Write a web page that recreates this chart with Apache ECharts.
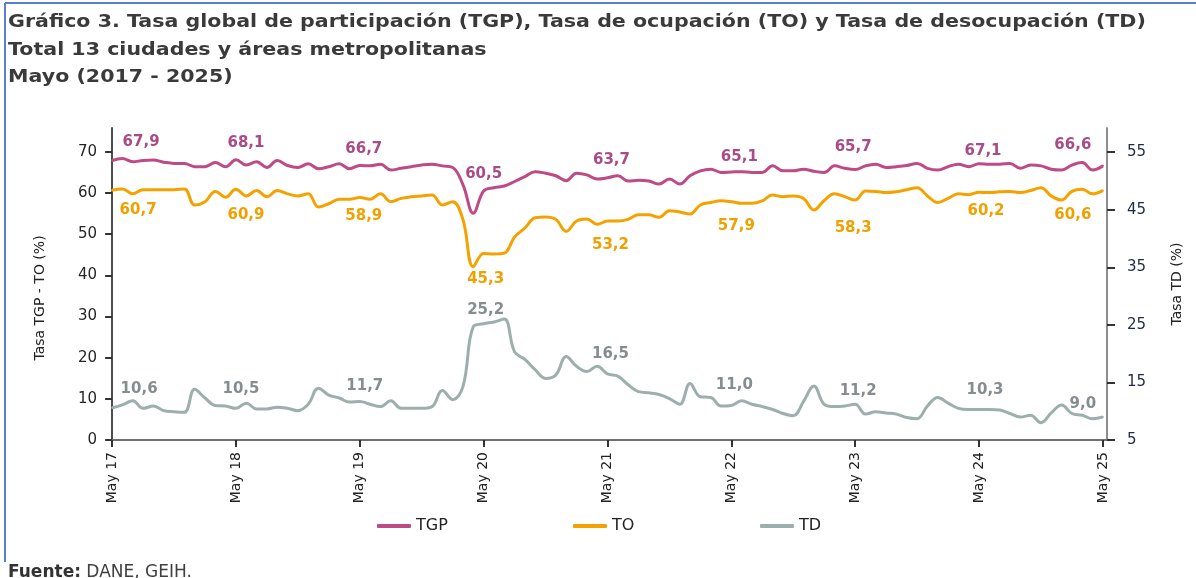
<!DOCTYPE html>
<html>
<head>
<meta charset="utf-8">
<script src="https://cdn.jsdelivr.net/npm/echarts@6/dist/echarts.min.js"></script>
<style>
  html, body { margin: 0; padding: 0; background: #fff; }
  #chart { width: 1196px; height: 578px; }
</style>
</head>
<body>
<div id="chart"></div>
<script>
// monthly values, May 2017 .. May 2025 (97 months)
var tgp = [
  67.9, 68.4, 67.6, 67.9, 68.0, 67.5, 67.2, 67.2, 66.4, 66.4, 67.4, 66.4,
  68.1, 66.8, 67.6, 66.2, 67.9, 66.7, 66.2, 67.1, 65.9, 66.4, 67.1, 65.9,
  66.7, 66.6, 67.0, 65.6, 66.0, 66.4, 66.8, 67.0, 66.6, 66.2, 62.0, 55.1,
  60.5, 61.3, 61.7, 62.8, 64.0, 65.2, 64.8, 64.2, 63.0, 64.8, 64.4, 63.4,
  63.7, 64.2, 62.9, 63.1, 62.9, 62.2, 63.4, 62.2, 64.2, 65.4, 65.8, 65.0,
  65.1, 65.2, 65.0, 65.0, 66.6, 65.4, 65.4, 65.8, 65.3, 65.0, 66.6, 66.0,
  65.7, 66.6, 67.0, 66.2, 66.4, 66.7, 67.2, 66.0, 65.6, 66.4, 67.0, 66.4,
  67.1, 67.0, 67.0, 67.2, 66.0, 66.8, 66.6, 65.8, 65.6, 66.8, 67.4, 65.6,
  66.6
];
var to = [
  60.7, 61.0, 59.8, 60.8, 60.8, 60.8, 60.8, 61.0, 57.1, 57.9, 60.4, 59.0,
  60.9, 59.3, 60.6, 59.1, 60.6, 59.8, 59.3, 59.8, 56.6, 57.4, 58.5, 58.5,
  58.9, 58.5, 59.8, 57.9, 58.7, 59.1, 59.3, 59.5, 57.1, 57.9, 53.5, 42.1,
  45.3, 45.2, 45.4, 49.3, 51.5, 54.0, 54.2, 53.6, 50.7, 53.2, 53.7, 52.4,
  53.2, 53.2, 53.6, 54.7, 54.7, 54.1, 55.7, 55.4, 54.9, 57.1, 57.7, 58.1,
  57.9, 57.5, 57.5, 58.1, 59.5, 59.1, 59.3, 58.7, 55.9, 58.2, 59.8, 59.1,
  58.3, 60.5, 60.4, 60.1, 60.3, 60.8, 61.3, 59.3, 57.7, 58.7, 59.8, 59.6,
  60.2, 60.1, 60.3, 60.4, 60.1, 60.6, 61.3, 59.3, 58.3, 60.4, 60.9, 59.8,
  60.6
];
var td = [
  10.6, 11.1, 11.8, 10.5, 10.9, 10.1, 9.9, 9.8, 13.8, 12.3, 11.0, 10.9,
  10.5, 11.4, 10.4, 10.4, 10.7, 10.5, 10.1, 11.2, 14.0, 12.8, 12.3, 11.6,
  11.7, 11.2, 10.8, 11.8, 10.5, 10.5, 10.5, 10.8, 13.6, 12.0, 14.3, 24.7,
  25.2, 25.5, 26.0, 20.3, 19.0, 17.2, 15.7, 16.3, 19.5, 17.8, 16.9, 17.8,
  16.5, 16.1, 14.6, 13.4, 13.2, 12.9, 12.2, 11.2, 14.8, 12.5, 12.4, 10.9,
  11.0, 11.8, 11.2, 10.8, 10.3, 9.6, 9.2, 11.7, 14.4, 11.2, 10.8, 10.9,
  11.2, 9.5, 9.9, 9.7, 9.5, 8.9, 8.7, 10.9, 12.4, 11.4, 10.5, 10.3,
  10.3, 10.3, 10.2, 9.6, 9.0, 9.3, 8.0, 9.7, 11.1, 9.6, 9.3, 8.7,
  9.0
];
var xTicks = ['May 17', 'May 18', 'May 19', 'May 20', 'May 21', 'May 22', 'May 23', 'May 24', 'May 25'];
var leftTicks = [0, 10, 20, 30, 40, 50, 60, 70];
var rightTicks = [5, 15, 25, 35, 45, 55];
var titleLines = [
  'Gráfico 3. Tasa global de participación (TGP), Tasa de ocupación (TO) y Tasa de desocupación (TD)',
  'Total 13 ciudades y áreas metropolitanas',
  'Mayo (2017 - 2025)'
];

// where the May labels sit relative to their point
var tgpOff = [[29, -18], [10, -17], [4, -16], [0, -17], [4, -18], [8, -15], [-2, -22], [4, -13], [-30, -21]];
var toOff = [[26, 20], [10, 26], [4, 19], [2, 26], [3, 24], [5, 24], [-2, 28], [7, 19], [-30, 25]];
var tdOff = [[27, -19], [5, -19], [5, -15], [2, -14], [3, -20], [3, -20], [3, -13], [6, -19], [-20, -13]];

var FONT = 'DejaVu Sans';
var fmt = function (v) { return v.toFixed(1).replace('.', ','); };

function build(values, offs, labelColor) {
  return values.map(function (v, i) {
    if (i % 12 !== 0) return [i, v];
    return {
      value: [i, v],
      label: {
        show: true,
        position: 'inside',
        offset: offs[i / 12],
        color: labelColor,
        fontFamily: FONT,
        fontWeight: 'bold',
        fontSize: 15,
        formatter: function (p) { return fmt(p.value[1]); }
      }
    };
  });
}

var myChart = echarts.init(document.getElementById('chart'));

var xStep = [];
for (var k = 0; k < xTicks.length; k++) xStep.push(k * 12);

// the original is a bit stretched sideways, so the title is scaled on x
var titleY = [22, 50, 77];
var titleGraphics = titleLines.map(function (t, i) {
  return {
    type: 'text',
    x: 8,
    y: titleY[i],
    scaleX: 1.143,
    style: {
      text: t,
      fontFamily: FONT,
      fontWeight: 'bold',
      fontSize: 18,
      fill: '#3a3a3a',
      verticalAlign: 'middle'
    }
  };
});

myChart.setOption({
  animation: false,
  legend: [
    {data: ['TGP'], left: 372, top: 513},
    {data: ['TO'], left: 568, top: 513},
    {data: ['TD'], left: 755, top: 513}
  ].map(function (l) {
    l.icon = 'roundRect';
    l.itemWidth = 34;
    l.itemHeight = 4;
    l.textStyle = {fontFamily: FONT, fontSize: 16, color: '#222'};
    return l;
  }),
  grid: {left: 109, right: 89, top: 128, bottom: 138},
  xAxis: {
    type: 'value',
    min: -0.3,
    max: 96.4,
    splitLine: {show: false},
    axisLine: {lineStyle: {color: '#6e6e6e', width: 2}},
    axisTick: {customValues: xStep, length: 7, lineStyle: {color: '#333', width: 2}},
    axisLabel: {
      customValues: xStep,
      rotate: 90,
      margin: 12,
      fontFamily: FONT,
      fontSize: 14,
      color: '#222',
      formatter: function (v) { return xTicks[Math.round(v / 12)]; }
    }
  },
  yAxis: [{
    type: 'value',
    min: 0,
    max: 75.8,
    name: 'Tasa TGP - TO (%)',
    nameLocation: 'middle',
    nameGap: 62,
    nameTextStyle: {fontFamily: FONT, fontSize: 14, color: '#222', padding: [0, 28, 0, 0]},
    splitLine: {show: false},
    axisLine: {show: true, lineStyle: {color: '#4d4d4d', width: 2}},
    axisTick: {show: true, customValues: leftTicks, length: 7, lineStyle: {color: '#333', width: 2}},
    axisLabel: {customValues: leftTicks, margin: 12, fontFamily: FONT, fontSize: 15, color: '#262626'}
  }, {
    type: 'value',
    min: 5,
    max: 59.2,
    name: 'Tasa TD (%)',
    nameLocation: 'middle',
    nameGap: 63,
    nameTextStyle: {fontFamily: FONT, fontSize: 14, color: '#222'},
    splitLine: {show: false},
    axisLine: {show: true, lineStyle: {color: '#8c8c8c', width: 2}},
    axisTick: {show: true, customValues: rightTicks, length: 8, lineStyle: {color: '#333', width: 2}},
    axisLabel: {customValues: rightTicks, margin: 20, fontFamily: FONT, fontSize: 15, color: '#1f2a44'}
  }],
  series: [{
    name: 'TGP',
    type: 'line',
    smooth: 0.4,
    symbol: 'circle',
    symbolSize: 2,
    showSymbol: true,
    lineStyle: {width: 3, color: '#BE4B86'},
    itemStyle: {color: '#BE4B86'},
    data: build(tgp, tgpOff, '#A94C86')
  }, {
    name: 'TO',
    type: 'line',
    smooth: 0.4,
    symbol: 'circle',
    symbolSize: 2,
    showSymbol: true,
    lineStyle: {width: 3, color: '#F5A200'},
    itemStyle: {color: '#F5A200'},
    data: build(to, toOff, '#F0A000')
  }, {
    name: 'TD',
    type: 'line',
    yAxisIndex: 1,
    smooth: 0.4,
    symbol: 'circle',
    symbolSize: 2,
    showSymbol: true,
    lineStyle: {width: 3, color: '#9DAFAC'},
    itemStyle: {color: '#9DAFAC'},
    data: build(td, tdOff, '#868D91')
  }],
  graphic: titleGraphics.concat([
    {type: 'line', shape: {x1: 5, y1: 3, x2: 1196, y2: 3}, style: {stroke: '#5b7fd0', lineWidth: 2}},
    {type: 'line', shape: {x1: 5, y1: 3, x2: 5, y2: 562}, style: {stroke: '#5b7fd0', lineWidth: 2}},
    {
      type: 'text',
      left: 8,
      top: 564,
      style: {
        text: '{b|Fuente:} DANE, GEIH.',
        fontFamily: FONT,
        fontSize: 17,
        fill: '#404040',
        rich: {b: {fontFamily: FONT, fontSize: 17, fontWeight: 'bold', fill: '#333'}}
      }
    }
  ])
});
</script>
</body>
</html>
